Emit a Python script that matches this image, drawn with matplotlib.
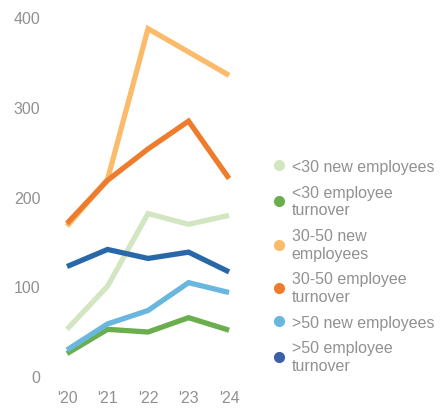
import matplotlib
matplotlib.use("Agg")
import matplotlib.pyplot as plt
from matplotlib.lines import Line2D

years = ["'20", "'21", "'22", "'23", "'24"]

under30_new = [52, 100, 181, 169, 179]
under30_turnover = [25, 52, 49, 65, 51]
mid_new = [167, 219, 387, 361, 335]
mid_turnover = [170, 218, 253, 284, 220]
over50_new = [29, 58, 73, 104, 93]
over50_turnover = [122, 141, 131, 138, 116]

labels = ["<30 new employees", "<30 employee\nturnover", "30-50 new\nemployees",
          "30-50 employee\nturnover", ">50 new employees", ">50 employee\nturnover"]
line_colors = ["#d3e6c2", "#6aae4d", "#fbbb6b", "#ee7c2d", "#69b7de", "#2867a8"]
dot_colors = ["#d3e6c2", "#6aae4d", "#fbbb6b", "#ee7c2d", "#69b7de", "#3d5fa6"]

plt.rcParams['font.family'] = ['Liberation Sans', 'DejaVu Sans']
grey = "#919191"

fig = plt.figure(figsize=(4.47, 4.10), dpi=100)
ax = fig.add_axes([50/447, 1 - 377/410, 190/447, 359/410])

series = [under30_new, under30_turnover, mid_new, mid_turnover, over50_new, over50_turnover]
x = range(len(years))
for vals, c in zip(series, line_colors):
    ax.plot(x, vals, color=c, lw=3.8, solid_joinstyle='miter', solid_capstyle='butt')

ax.set_xlim(-0.42, 4.27)
ax.set_ylim(0, 400)
ax.set_yticks([0, 100, 200, 300, 400])
ax.set_xticks(list(x))
ax.set_xticklabels(years)
for s in ax.spines.values():
    s.set_visible(False)
ax.tick_params(length=0, colors=grey, labelsize=11.5)
ax.tick_params(axis='y', pad=7)
ax.tick_params(axis='x', pad=10)

handles = [Line2D([], [], marker='o', ls='none', markersize=7, color=c) for c in dot_colors]
fig.legend(handles, labels, loc='upper left', bbox_to_anchor=(266/447, 1 - 152/410),
           frameon=False, fontsize=11.5, labelcolor=grey, handlelength=0.6,
           handletextpad=0.5, labelspacing=0.68, borderpad=0)

fig.savefig("out.png", dpi=100)
